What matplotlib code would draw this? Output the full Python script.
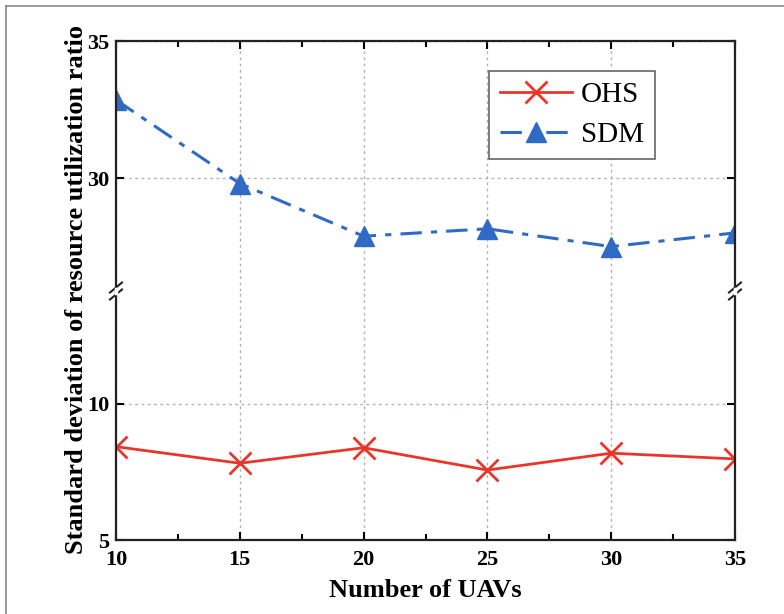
import matplotlib
matplotlib.use("Agg")
import matplotlib.pyplot as plt
from matplotlib.lines import Line2D
import numpy as np

uavs = [10, 15, 20, 25, 30, 35]
ohs = [8.43, 7.82, 8.39, 7.57, 8.19, 7.98]
sdm = [32.85, 29.8, 27.88, 28.15, 27.5, 28.0]
top_ticks = [30, 35]
bottom_ticks = [5, 10]

red = "#e8372a"
blue = "#2f6bc4"
grid_col = "#b8b0b0"

plt.rcParams["font.family"] = ["Liberation Serif", "DejaVu Serif"]

fig = plt.figure(figsize=(7.84, 6.14), dpi=100)

left, right = 116 / 784, 735 / 784
y_top, y_break, y_bot = 1 - 41 / 614, 1 - 291 / 614, 1 - 540 / 614
ax_top = fig.add_axes([left, y_break, right - left, y_top - y_break])
ax_bot = fig.add_axes([left, y_bot, right - left, y_break - y_bot], sharex=ax_top)

h_sdm, = ax_top.plot(uavs, sdm, color=blue, lw=2.2, ls="-.", marker="^", ms=15,
                     dashes=(7, 3, 2, 3), label="SDM")
h_ohs, = ax_bot.plot(uavs, ohs, color=red, lw=2.0, ls="-", marker="x", ms=16,
                     mew=2.0, label="OHS")

ax_top.set_ylim(25.88, 35)
ax_bot.set_ylim(5, 14.15)
ax_bot.set_xlim(10, 35)
ax_top.set_yticks(top_ticks)
ax_bot.set_yticks(bottom_ticks)
ax_bot.set_xticks(uavs)
ax_bot.set_xticks([12.5, 17.5, 22.5, 27.5, 32.5], minor=True)

for ax in (ax_top, ax_bot):
    ax.grid(True, which="major", ls=(0, (2, 2.5)), color=grid_col, lw=1.0)
    ax.tick_params(which="both", direction="in", top=True, right=True,
                   labelsize=16, width=1.5)
    ax.tick_params(which="major", length=6)
    ax.tick_params(which="minor", length=4)
    for lab in ax.get_xticklabels() + ax.get_yticklabels():
        lab.set_fontweight("bold")
    for s in ax.spines.values():
        s.set_linewidth(1.6)
        s.set_color("#222222")

ax_top.spines["bottom"].set_visible(False)
ax_bot.spines["top"].set_visible(False)
ax_top.tick_params(which="both", bottom=False, labelbottom=False)
ax_bot.tick_params(which="both", top=False)
ax_bot.tick_params(axis="x", pad=7)
ax_top.tick_params(axis="y", pad=5)
ax_bot.tick_params(axis="y", pad=5)

# break marks on both spines
for xb in (left, right):
    for dy in (-3.5, 3.5):
        fig.add_artist(Line2D([xb - 6 / 784, xb + 6 / 784],
                              [y_break + (dy - 5) / 614, y_break + (dy + 5) / 614],
                              color="#222222", lw=1.5))
    fig.add_artist(Line2D([xb, xb], [y_break - 2 / 614, y_break + 2 / 614],
                          color="white", lw=2.5))

leg = ax_top.legend([h_ohs, h_sdm], ["OHS", "SDM"], loc="upper left",
                    bbox_to_anchor=(0.603, 0.88), borderaxespad=0, fontsize=21,
                    handlelength=2.45, fancybox=False, framealpha=1,
                    edgecolor="#666666", borderpad=0.38, labelspacing=0.45,
                    handletextpad=0.3)
leg.get_frame().set_linewidth(1.2)

fig.text(0.097, 1 - 290 / 614, "Standard deviation of resource utilization ratio",
         rotation=90, ha="center", va="center", fontsize=19, fontweight="bold")
fig.text((left + right) / 2, 0.038, "Number of UAVs", ha="center", va="center",
         fontsize=19, fontweight="bold")

# thin frame on top and left
fig.add_artist(Line2D([6 / 784, 6 / 784], [0, 1 - 6 / 614], color="#888888", lw=1.2))
fig.add_artist(Line2D([6 / 784, 1], [1 - 6 / 614, 1 - 6 / 614], color="#888888", lw=1.2))

fig.savefig("out.png", dpi=100)
